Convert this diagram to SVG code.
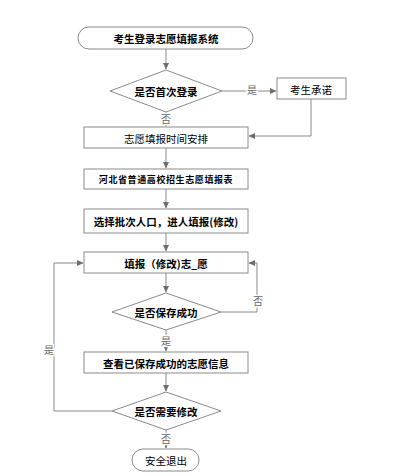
<svg xmlns="http://www.w3.org/2000/svg" width="406" height="476" viewBox="0 0 406 476">
<defs>
<marker id="ah" markerWidth="7" markerHeight="7" refX="6" refY="3.5" orient="auto" markerUnits="userSpaceOnUse">
<path d="M0,0.5 L6.5,3.5 L0,6.5 z" fill="#6e6e6e"/>
</marker>
</defs>
<style>
.box{fill:#fff;stroke:#8a8a8a;stroke-width:1}
.ln{fill:none;stroke:#8a8a8a;stroke-width:1}
.t{font-family:"Noto Sans CJK SC","Noto Sans",sans-serif;font-size:10.5px;fill:#000;text-anchor:middle;dominant-baseline:central}
.b{font-weight:bold}
.lb{font-family:"Noto Sans CJK SC",sans-serif;font-size:10px;fill:#666;text-anchor:middle;dominant-baseline:central;stroke:#fff;stroke-width:3px;paint-order:stroke}
</style>
<rect width="406" height="476" fill="#fff"/>
<g id="connectors">
<path class="ln" d="M166,49 V69" marker-end="url(#ah)"/>
<path class="ln" d="M222,91 H276" marker-end="url(#ah)"/>
<path class="ln" d="M311,99 V136 H249" marker-end="url(#ah)"/>
<path class="ln" d="M166,112 V126" marker-end="url(#ah)"/>
<path class="ln" d="M166,148 V168" marker-end="url(#ah)"/>
<path class="ln" d="M166,189 V208" marker-end="url(#ah)"/>
<path class="ln" d="M166,233 V251" marker-end="url(#ah)"/>
<path class="ln" d="M166,273 V292" marker-end="url(#ah)"/>
<path class="ln" d="M221,312 H257 V263 H249" marker-end="url(#ah)"/>
<path class="ln" d="M166,330 V351" marker-end="url(#ah)"/>
<path class="ln" d="M166,373 V391" marker-end="url(#ah)"/>
<path class="ln" d="M112,411 H54 V263 H83" marker-end="url(#ah)"/>
<path class="ln" d="M166,430 V448" marker-end="url(#ah)"/>
<text class="lb" x="252" y="89">是</text>
<text class="lb" x="166" y="118">否</text>
<text class="lb" x="258" y="300">否</text>
<text class="lb" x="166" y="340">是</text>
<text class="lb" x="49" y="349">是</text>
<text class="lb" x="166" y="438">否</text>
</g>
<g id="start">
<rect class="box" x="78" y="27" width="175" height="22" rx="11"/>
<text class="t b" x="166" y="38">考生登录志愿填报系统</text>
</g>
<g id="d1">
<polygon class="box" points="166,70 222,91 166,112 110,91"/>
<text class="t b" x="166" y="91">是否首次登录</text>
</g>
<g id="promise">
<rect class="box" x="277" y="78" width="69" height="21"/>
<text class="t" x="311" y="89">考生承诺</text>
</g>
<g id="schedule">
<rect class="box" x="84" y="127" width="164" height="21"/>
<text class="t" x="166" y="138">志愿填报时间安排</text>
</g>
<g id="form">
<rect class="box" x="84" y="169" width="164" height="20"/>
<text class="t b" x="166" y="179" style="font-size:9px;letter-spacing:0.6px">河北省普通高校招生志愿填报表</text>
</g>
<g id="select">
<rect class="box" x="84" y="209" width="164" height="24"/>
<text class="t b" x="166" y="221">选择批次人口，进人填报(修改)</text>
</g>
<g id="fill">
<rect class="box" x="84" y="252" width="164" height="21"/>
<text class="t b" x="166" y="263">填报（修改)志_愿</text>
</g>
<g id="d2">
<polygon class="box" points="166,293 221,312 166,330 112,312"/>
<text class="t b" x="166" y="312">是否保存成功</text>
</g>
<g id="view">
<rect class="box" x="84" y="352" width="164" height="21"/>
<text class="t b" x="166" y="363">查看已保存成功的志愿信息</text>
</g>
<g id="d3">
<polygon class="box" points="166,392 221,411 166,430 112,411"/>
<text class="t b" x="166" y="411">是否需要修改</text>
</g>
<g id="end">
<rect class="box" x="132" y="449" width="67" height="22" rx="11"/>
<text class="t" x="166" y="460">安全退出</text>
</g>
</svg>
